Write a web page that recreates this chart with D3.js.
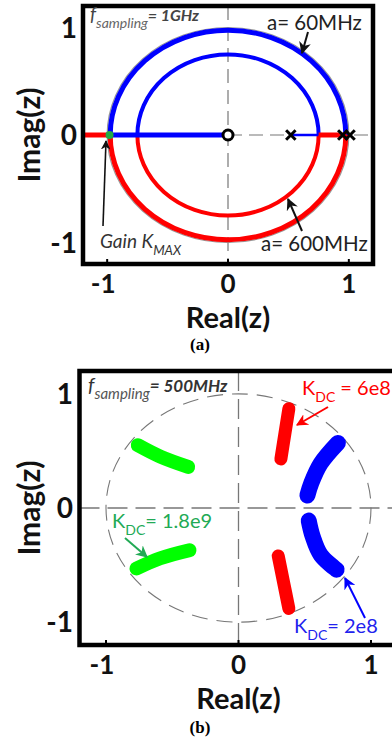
<!DOCTYPE html>
<html>
<head>
<meta charset="utf-8">
<script src="https://cdn.jsdelivr.net/npm/d3@7"></script>
<style>
  html, body { margin: 0; padding: 0; background: #fff; }
  svg { display: block; }
</style>
</head>
<body>
<div id="chart"></div>
<script>
// ---- data ----
const tick_values = [-1, 0, 1]
const tick_labels = ["-1", "0", "1"]
const panel_labels = ["(a)", "(b)"]

// panel (a): root locus, f_sampling = 1GHz
const a_upper_radii = [0.975, 0.75]          // blue branches (upper half)
const a_lower_radii = [0.975, 0.75]          // red branches (lower half)
const a_unit_radius = [1.0]
const a_blue_real = [[-0.98, 0], [0.52, 0.75]]
const a_red_real = [[-1.2, -0.98], [0.75, 0.98]]
const a_poles = [0.52, 0.95, 1.01]
const a_zeros = [0]
const a_kmax = [-0.98]

// panel (b): closed-loop poles, f_sampling = 500MHz
const b_red = [
    [[0.38, 0.87], [0.35, 0.65], [0.32, 0.43]],
    [[0.30, -0.42], [0.34, -0.65], [0.38, -0.88]],
]
const b_blue = [
    [[0.75, 0.57], [0.62, 0.39], [0.55, 0.22], [0.52, 0.11]],
    [[0.53, -0.11], [0.56, -0.25], [0.62, -0.41], [0.74, -0.54]],
]
const b_green = [
    [[-0.76, 0.55], [-0.59, 0.45], [-0.38, 0.36]],
    [[-0.77, -0.53], [-0.59, -0.44], [-0.37, -0.37]],
]

const red = "#ff0000", blue = "#0000ff", green_pt = "#00ff00", green_txt = "#22aa55"
const grid_color = "#777", axis_font = "Lato, 'Open Sans', sans-serif"

const svg = d3.select("#chart").append("svg")
    .attr("width", 392).attr("height", 738)
    .style("background", "#fff")

const defs = svg.append("defs")
function marker(id, color) {
    defs.append("marker")
        .attr("id", id).attr("viewBox", "0 0 10 10")
        .attr("refX", 9).attr("refY", 5)
        .attr("markerWidth", 6).attr("markerHeight", 6)
        .attr("orient", "auto")
        .append("path").attr("d", "M0,0 L10,5 L0,10 L3,5 Z").attr("fill", color)
}
marker("ar-k", "#111"); marker("ar-r", red); marker("ar-b", blue); marker("ar-g", green_txt)

function frame(g, x, y, right_border) {
    const [x0, x1] = x.range(), [y0, y1] = y.range()
    g.append("path")
        .attr("d", right_border
            ? `M${x0},${y1} H${x1} V${y0} H${x0} Z`
            : `M${x1 + 10},${y1} H${x0} V${y0} H${x1 + 10}`)
        .attr("fill", "none").attr("stroke", "#000").attr("stroke-width", 4.5)
    // ticks
    tick_values.forEach(v => {
        g.append("line").attr("x1", x(v)).attr("x2", x(v))
            .attr("y1", y0 - 2).attr("y2", y0 - 5).attr("stroke", "#000").attr("stroke-width", 2)
    })
}

function axis_text(g, x, y, opts) {
    tick_values.forEach((v, i) => {
        g.append("text").attr("x", x(v) - (v < 0 ? 4 : 0)).attr("y", opts.xtick_y)
            .attr("text-anchor", "middle")
            .attr("font-family", axis_font).attr("font-weight", 700).attr("font-size", 26)
            .attr("fill", "#111").text(tick_labels[i])
        g.append("text").attr("x", opts.ytick_x).attr("y", y(v) + 10)
            .attr("text-anchor", "end")
            .attr("font-family", axis_font).attr("font-weight", 700).attr("font-size", 28)
            .attr("fill", "#111").text(tick_labels[i])
    })
    g.append("text").attr("x", x(0)).attr("y", opts.xlabel_y)
        .attr("text-anchor", "middle")
        .attr("font-family", axis_font).attr("font-weight", 700).attr("font-size", 29)
        .attr("fill", "#111").text("Real(z)")
    g.append("text")
        .attr("transform", `translate(${opts.ylabel_x},${y(0)}) rotate(-90)`)
        .attr("text-anchor", "middle")
        .attr("font-family", axis_font).attr("font-weight", 700).attr("font-size", 30)
        .attr("fill", "#111").text("Imag(z)")
    g.append("text").attr("x", 200).attr("y", opts.panel_y)
        .attr("text-anchor", "middle")
        .attr("font-family", "'Liberation Serif', serif").attr("font-weight", 700).attr("font-size", 17)
        .attr("fill", "#000").text(opts.panel)
}

function half(x, y, r, upper) {
    const rx = x(r) - x(0), ry = y(0) - y(r)
    return `M${x(-r)},${y(0)} A${rx},${ry} 0 0 ${upper ? 1 : 0} ${x(r)},${y(0)}`
}

function sub_text(g, px, py, main, sub, rest, size, color, italic, weight) {
    const t = g.append("text").attr("x", px).attr("y", py)
        .attr("font-family", "Lato, 'Open Sans', sans-serif")
        .attr("font-size", size).attr("fill", color)
        .attr("font-style", italic ? "italic" : "normal")
    t.append("tspan").text(main)
    t.append("tspan").attr("dy", size * 0.35).attr("font-size", size * 0.7).text(sub)
    t.append("tspan").attr("dy", -size * 0.35).attr("font-weight", weight || 400).text(rest)
    return t
}

function arrow(g, p, id, color, w) {
    g.append("line").attr("x1", p[0]).attr("y1", p[1]).attr("x2", p[2]).attr("y2", p[3])
        .attr("stroke", color).attr("stroke-width", w || 2).attr("marker-end", `url(#${id})`)
}

// ================= panel (a) =================
{
    const x = d3.scaleLinear().domain([-1.2, 1.2]).range([83, 373])
    const y = d3.scaleLinear().domain([-1.2, 1.2]).range([264, 6])
    const g = svg.append("g")

    // dashed axes
    g.append("line").attr("x1", x(0)).attr("x2", x(0)).attr("y1", y(1.2)).attr("y2", y(-1.2))
        .attr("stroke", grid_color).attr("stroke-width", 1.2).attr("stroke-dasharray", "14,7")
    g.append("line").attr("x1", x(0)).attr("x2", x(1.2)).attr("y1", y(0)).attr("y2", y(0))
        .attr("stroke", grid_color).attr("stroke-width", 1.2).attr("stroke-dasharray", "14,7")

    // grey unit circle outline
    a_unit_radius.forEach(r => {
        g.append("ellipse").attr("cx", x(0)).attr("cy", y(0))
            .attr("rx", x(r) - x(0)).attr("ry", y(0) - y(r))
            .attr("fill", "none").attr("stroke", "#999").attr("stroke-width", 1.2)
    })

    g.selectAll("path.up").data(a_upper_radii).join("path").attr("class", "up")
        .attr("d", r => half(x, y, r, true))
        .attr("fill", "none").attr("stroke", blue).attr("stroke-width", (d, i) => i ? 4 : 5)
    g.selectAll("path.lo").data(a_lower_radii).join("path").attr("class", "lo")
        .attr("d", r => half(x, y, r, false))
        .attr("fill", "none").attr("stroke", red).attr("stroke-width", (d, i) => i ? 4 : 5)

    g.selectAll("line.br").data(a_blue_real).join("line").attr("class", "br")
        .attr("x1", d => x(d[0])).attr("x2", d => x(d[1])).attr("y1", y(0)).attr("y2", y(0))
        .attr("stroke", blue).attr("stroke-width", (d, i) => i ? 2.5 : 5)
    g.selectAll("line.rr").data(a_red_real).join("line").attr("class", "rr")
        .attr("x1", d => x(d[0])).attr("x2", d => x(d[1])).attr("y1", y(0)).attr("y2", y(0))
        .attr("stroke", red).attr("stroke-width", 5)

    // poles (x) and zero (o)
    const cross = d3.symbol().type(d3.symbolX).size(60)
    g.selectAll("path.pole").data(a_poles).join("path").attr("class", "pole")
        .attr("d", cross).attr("transform", d => `translate(${x(d)},${y(0)})`)
        .attr("fill", "none").attr("stroke", "#000").attr("stroke-width", 3)
    g.selectAll("circle.zero").data(a_zeros).join("circle").attr("class", "zero")
        .attr("cx", d => x(d)).attr("cy", y(0)).attr("r", 5)
        .attr("fill", "#fff").attr("stroke", "#000").attr("stroke-width", 3)
    g.selectAll("circle.kmax").data(a_kmax).join("circle").attr("class", "kmax")
        .attr("cx", d => x(d)).attr("cy", y(0)).attr("r", 4).attr("fill", "#22aa44")

    frame(g, x, y, true)

    // annotations
    const f = g.append("text").attr("x", 90).attr("y", 21)
        .attr("font-family", "Lato, sans-serif").attr("font-style", "italic").attr("fill", "#444")
    f.append("tspan").attr("font-size", 19).text("f")
    f.append("tspan").attr("dy", 7).attr("font-size", 14).attr("fill", "#666").text("sampling")
    f.append("tspan").attr("dy", -7).attr("font-size", 16).attr("font-weight", 700).text("= 1GHz")

    g.append("text").attr("x", 267).attr("y", 30)
        .attr("font-family", "Lato, sans-serif").attr("font-size", 20.5).attr("fill", "#222")
        .text("a= 60MHz")
    arrow(g, [308, 32, 302, 53], "ar-k", "#111")

    sub_text(g, 100, 248, "Gain K", "MAX", "", 19, "#333", true)
    arrow(g, [103, 226, 106, 141], "ar-k", "#111", 1.6)

    g.append("text").attr("x", 261).attr("y", 251)
        .attr("font-family", "Lato, sans-serif").attr("font-size", 20.5).attr("fill", "#222")
        .text("a= 600MHz")
    arrow(g, [302, 231, 288, 199], "ar-k", "#111")

    axis_text(g, x, y, {xtick_y: 293, ytick_x: 77, xlabel_y: 328, ylabel_x: 40, panel_y: 350, panel: panel_labels[0]})
}

// ================= panel (b) =================
{
    const x = d3.scaleLinear().domain([-1.2, 1.2]).range([79.5, 397.5])
    const y = d3.scaleLinear().domain([-1.2, 1.2]).range([645, 371])
    const g = svg.append("g")

    g.append("line").attr("x1", x(0)).attr("x2", x(0)).attr("y1", y(1.2)).attr("y2", y(-1.2))
        .attr("stroke", grid_color).attr("stroke-width", 1.3).attr("stroke-dasharray", "20,8")
    g.append("line").attr("x1", x(-1.2)).attr("x2", x(1.2)).attr("y1", y(0)).attr("y2", y(0))
        .attr("stroke", grid_color).attr("stroke-width", 1.3).attr("stroke-dasharray", "20,8")
    g.append("ellipse").attr("cx", x(0)).attr("cy", y(0))
        .attr("rx", x(1) - x(0)).attr("ry", y(0) - y(1))
        .attr("fill", "none").attr("stroke", grid_color).attr("stroke-width", 1.1)
        .attr("stroke-dasharray", "16,9")

    const line = d3.line().x(d => x(d[0])).y(d => y(d[1])).curve(d3.curveCatmullRom)
    const bands = [[b_red, red, 13], [b_blue, blue, 16], [b_green, green_pt, 14]]
    bands.forEach(([set, color, w]) => {
        g.selectAll(null).data(set).join("path")
            .attr("d", line).attr("fill", "none").attr("stroke", color)
            .attr("stroke-width", w).attr("stroke-linecap", "round")
    })

    frame(g, x, y, false)

    const f = g.append("text").attr("x", 88).attr("y", 392)
        .attr("font-family", "Lato, sans-serif").attr("font-style", "italic").attr("fill", "#333")
    f.append("tspan").attr("font-size", 20).text("f")
    f.append("tspan").attr("dy", 7).attr("font-size", 15).attr("fill", "#555").text("sampling")
    f.append("tspan").attr("dy", -7).attr("font-size", 17).attr("font-weight", 700).text("= 500MHz")

    sub_text(g, 302, 395, "K", "DC", " = 6e8", 20, red, false)
    arrow(g, [328, 407, 297, 425], "ar-r", red)

    sub_text(g, 112, 528, "K", "DC", "= 1.8e9", 20, green_txt, false)
    arrow(g, [125, 538, 147, 557], "ar-g", green_txt)

    sub_text(g, 294, 633, "K", "DC", "= 2e8", 20, "#2222ee", false)
    arrow(g, [365, 618, 345, 578], "ar-b", blue)

    axis_text(g, x, y, {xtick_y: 674, ytick_x: 73, xlabel_y: 709, ylabel_x: 40, panel_y: 733, panel: panel_labels[1]})
}
</script>
</body>
</html>
